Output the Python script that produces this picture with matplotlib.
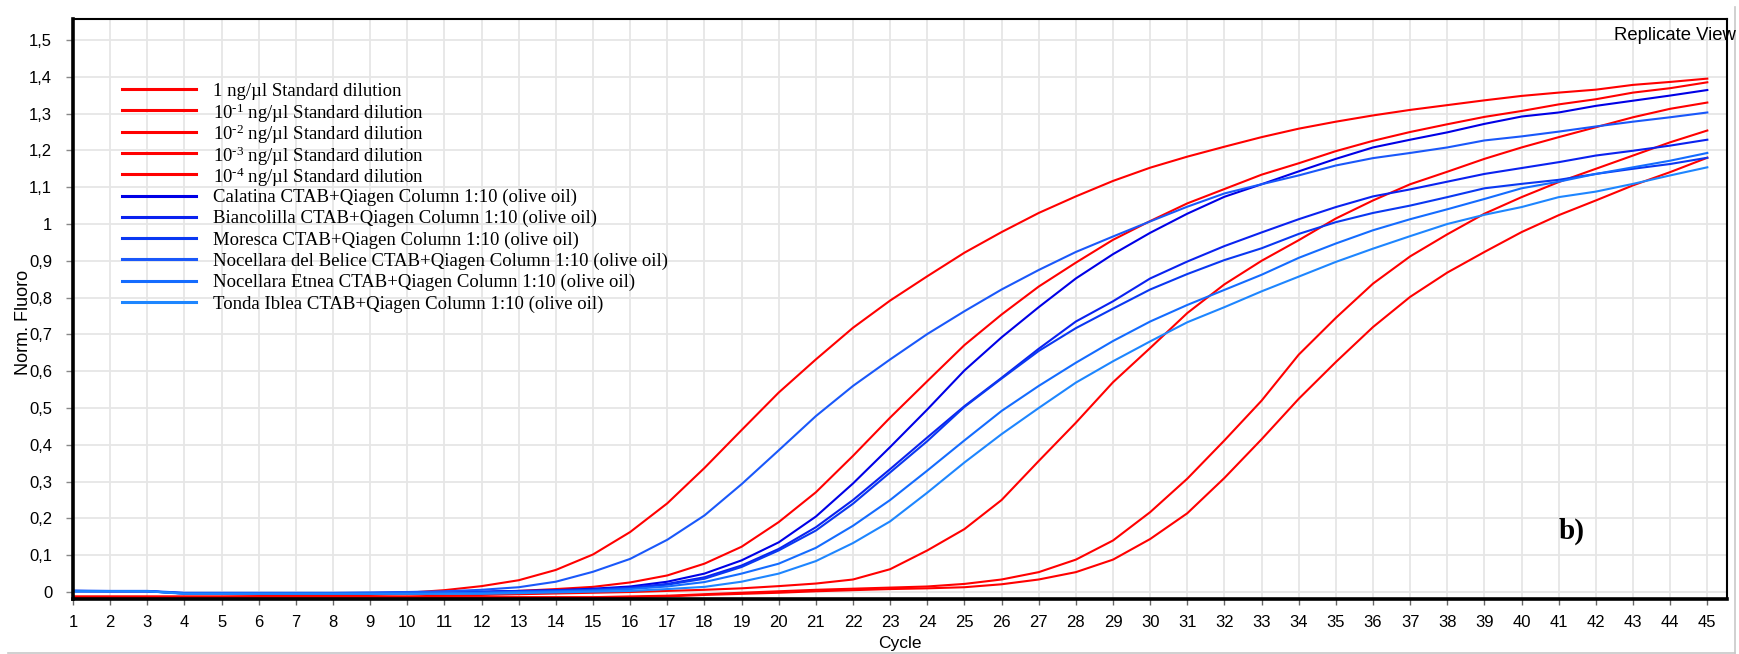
import matplotlib
matplotlib.use("Agg")
import matplotlib.pyplot as plt
from matplotlib.lines import Line2D
import numpy as np

plt.rcParams['mathtext.fontset'] = 'custom'
plt.rcParams['mathtext.rm'] = 'Liberation Serif'
plt.rcParams['mathtext.it'] = 'Liberation Serif:italic'
plt.rcParams['mathtext.bf'] = 'Liberation Serif:bold'

cycles = list(range(1, 46))

r1 = [-0.012, -0.012, -0.012, -0.012, -0.012, -0.011, -0.010, -0.008, -0.005, -0.002,
      0.005, 0.016, 0.032, 0.060, 0.102, 0.163, 0.241, 0.337, 0.440, 0.542,
      0.632, 0.718, 0.792, 0.858, 0.922, 0.978, 1.030, 1.075, 1.117, 1.153,
      1.183, 1.210, 1.236, 1.259, 1.278, 1.295, 1.310, 1.323, 1.336, 1.348,
      1.357, 1.365, 1.378, 1.386, 1.395]
r2 = [-0.013, -0.013, -0.013, -0.013, -0.013, -0.013, -0.012, -0.010, -0.008, -0.006,
      -0.004, -0.001, 0.003, 0.008, 0.014, 0.026, 0.045, 0.077, 0.123, 0.190,
      0.271, 0.370, 0.474, 0.573, 0.671, 0.754, 0.830, 0.895, 0.957, 1.008,
      1.056, 1.095, 1.134, 1.165, 1.198, 1.226, 1.250, 1.271, 1.291, 1.307,
      1.325, 1.339, 1.357, 1.369, 1.385]
r3 = [-0.014, -0.014, -0.014, -0.014, -0.014, -0.014, -0.014, -0.013, -0.013, -0.012,
      -0.010, -0.008, -0.006, -0.004, -0.002, 0.000, 0.003, 0.006, 0.010, 0.016,
      0.023, 0.034, 0.062, 0.113, 0.171, 0.250, 0.356, 0.460, 0.570, 0.663,
      0.758, 0.836, 0.900, 0.956, 1.015, 1.064, 1.108, 1.142, 1.177, 1.208,
      1.236, 1.263, 1.290, 1.313, 1.330]
r4 = [-0.014, -0.014, -0.014, -0.014, -0.014, -0.014, -0.014, -0.014, -0.014, -0.014,
      -0.014, -0.014, -0.014, -0.014, -0.014, -0.012, -0.010, -0.006, -0.002, 0.002,
      0.006, 0.009, 0.012, 0.015, 0.022, 0.034, 0.054, 0.088, 0.140, 0.217,
      0.308, 0.412, 0.520, 0.645, 0.745, 0.838, 0.912, 0.972, 1.028, 1.073,
      1.114, 1.150, 1.186, 1.222, 1.254]
r5 = [-0.015, -0.015, -0.015, -0.015, -0.015, -0.015, -0.015, -0.015, -0.015, -0.015,
      -0.015, -0.015, -0.015, -0.015, -0.015, -0.014, -0.012, -0.008, -0.005, -0.002,
      0.002, 0.005, 0.008, 0.010, 0.013, 0.021, 0.034, 0.054, 0.088, 0.144,
      0.214, 0.310, 0.415, 0.525, 0.625, 0.720, 0.802, 0.868, 0.924, 0.978,
      1.024, 1.064, 1.105, 1.141, 1.180]

calatina = [0.003, 0.002, 0.002, -0.003, -0.003, -0.003, -0.003, -0.003, -0.003, -0.001,
            0.000, 0.001, 0.003, 0.005, 0.009, 0.015, 0.028, 0.050, 0.086, 0.135,
            0.205, 0.295, 0.394, 0.496, 0.602, 0.692, 0.774, 0.852, 0.918, 0.976,
            1.028, 1.074, 1.108, 1.143, 1.177, 1.208, 1.229, 1.249, 1.272, 1.292,
            1.303, 1.321, 1.335, 1.349, 1.364]
biancolilla = [0.002, 0.002, 0.002, -0.004, -0.004, -0.004, -0.004, -0.004, -0.004, -0.002,
               -0.001, 0.000, 0.002, 0.004, 0.007, 0.012, 0.022, 0.040, 0.072, 0.117,
               0.176, 0.250, 0.334, 0.420, 0.505, 0.582, 0.661, 0.735, 0.790, 0.852,
               0.898, 0.940, 0.977, 1.013, 1.046, 1.075, 1.094, 1.115, 1.136, 1.152,
               1.168, 1.186, 1.199, 1.213, 1.229]
moresca = [0.002, 0.002, 0.002, -0.004, -0.004, -0.004, -0.004, -0.004, -0.004, -0.002,
           -0.001, 0.000, 0.002, 0.004, 0.006, 0.011, 0.020, 0.036, 0.068, 0.113,
           0.167, 0.240, 0.325, 0.410, 0.503, 0.580, 0.655, 0.717, 0.770, 0.822,
           0.864, 0.902, 0.934, 0.973, 1.005, 1.030, 1.050, 1.073, 1.097, 1.109,
           1.120, 1.136, 1.150, 1.163, 1.180]
belice = [0.004, 0.003, 0.003, -0.002, -0.002, -0.002, -0.002, -0.002, -0.001, 0.000,
          0.002, 0.006, 0.013, 0.028, 0.055, 0.090, 0.142, 0.208, 0.293, 0.385,
          0.478, 0.560, 0.632, 0.701, 0.763, 0.822, 0.875, 0.924, 0.966, 1.007,
          1.047, 1.083, 1.108, 1.132, 1.159, 1.179, 1.193, 1.208, 1.227, 1.238,
          1.251, 1.265, 1.278, 1.290, 1.303]
etnea = [0.002, 0.002, 0.002, -0.004, -0.004, -0.004, -0.004, -0.004, -0.004, -0.004,
         -0.003, -0.002, 0.000, 0.002, 0.004, 0.008, 0.015, 0.027, 0.050, 0.077,
         0.120, 0.180, 0.250, 0.330, 0.412, 0.492, 0.560, 0.623, 0.682, 0.735,
         0.780, 0.821, 0.862, 0.908, 0.947, 0.983, 1.013, 1.040, 1.068, 1.097,
         1.115, 1.136, 1.154, 1.172, 1.193]
iblea = [0.002, 0.002, 0.002, -0.005, -0.005, -0.005, -0.005, -0.005, -0.005, -0.005,
         -0.005, -0.005, -0.003, -0.001, 0.001, 0.003, 0.008, 0.014, 0.028, 0.050,
         0.084, 0.133, 0.192, 0.270, 0.352, 0.429, 0.500, 0.569, 0.627, 0.681,
         0.733, 0.774, 0.817, 0.857, 0.897, 0.933, 0.967, 1.000, 1.025, 1.046,
         1.073, 1.088, 1.109, 1.132, 1.154]

labels = [
    "1 ng/µl Standard dilution",
    "10$^{\\mathrm{\u2010}1}$ ng/µl Standard dilution",
    "10$^{\\mathrm{\u2010}2}$ ng/µl Standard dilution",
    "10$^{\\mathrm{\u2010}3}$ ng/µl Standard dilution",
    "10$^{\\mathrm{\u2010}4}$ ng/µl Standard dilution",
    "Calatina CTAB+Qiagen Column 1:10 (olive oil)",
    "Biancolilla CTAB+Qiagen Column 1:10 (olive oil)",
    "Moresca CTAB+Qiagen Column 1:10 (olive oil)",
    "Nocellara del Belice CTAB+Qiagen Column 1:10 (olive oil)",
    "Nocellara Etnea CTAB+Qiagen Column 1:10 (olive oil)",
    "Tonda Iblea CTAB+Qiagen Column 1:10 (olive oil)",
]
series = [r1, r2, r3, r4, r5, calatina, biancolilla, moresca, belice, etnea, iblea]
colors = ["#ff0000", "#ff0000", "#ff0000", "#ff0000", "#ff0000",
          "#0000e6", "#0a22f0", "#0a38f2", "#1a58fa", "#146cff", "#1e86ff"]

yticks = [round(0.1 * i, 1) for i in range(16)]
ytick_labels = [("%g" % v).replace(".", ",") for v in yticks]

W, H = 1740, 654
fig = plt.figure(figsize=(W / 100, H / 100), dpi=100)
ax = fig.add_axes([73 / W, 1 - 599 / H, (1727 - 73) / W, (599 - 19) / H])

for ys, lab, col in zip(series, labels, colors):
    ax.plot(cycles, ys, color=col, lw=1.5, label=lab, solid_joinstyle='round')

ax.set_xlim(1, 45.53)
ax.set_ylim(-0.019, 1.557)
ax.set_xticks(cycles)
ax.set_xticklabels([str(c) for c in cycles], fontfamily='Liberation Sans', fontsize=12)
ax.set_yticks(yticks)
ax.set_yticklabels(ytick_labels, fontfamily='Liberation Sans', fontsize=12)
ax.tick_params(axis='x', direction='out', length=4, width=1, color='#666666', pad=7.5)
ax.tick_params(axis='y', direction='out', length=5, width=1, color='#888888', pad=10)
ax.grid(True, color='#e6e6e6', lw=1.3)
ax.set_axisbelow(True)
for side in ['left', 'bottom']:
    ax.spines[side].set_linewidth(2.6)
for side in ['top', 'right']:
    ax.spines[side].set_linewidth(1.5)

ax.set_xlabel("Cycle", fontfamily='Liberation Sans', fontsize=12.5, labelpad=4)
fig.text(24 / W, 1 - 322 / H, "Norm. Fluoro", rotation=90, ha='center', va='center',
         fontfamily='Liberation Sans', fontsize=13)

# legend, drawn entry by entry from the series' own lines
handles, leg_labels = ax.get_legend_handles_labels()
row0, row_step = 89, 21.3
for i, (h, lab) in enumerate(zip(handles, leg_labels)):
    yf = 1 - (row0 + i * row_step) / H
    fig.add_artist(Line2D([122 / W, 196 / W], [yf, yf], transform=fig.transFigure,
                          color=h.get_color(), lw=2.2))
    fig.text(213 / W, yf, lab, ha='left', va='center_baseline',
             fontfamily='Liberation Serif', fontsize=13.5)

fig.text(1736 / W, 1 - 36 / H, "Replicate View", ha='right', va='center',
         fontfamily='Liberation Sans', fontsize=13.3)
ax.text(0.906, 0.117, "b)", transform=ax.transAxes, ha='center', va='center',
        fontfamily='Liberation Serif', fontweight='bold', fontsize=21)

fig.add_artist(Line2D([8 / W, 1735 / W], [1 - 652.5 / H, 1 - 652.5 / H],
                      transform=fig.transFigure, color='#c8c8c8', lw=1.2))
fig.add_artist(Line2D([1735 / W, 1735 / W], [1 - 652.5 / H, 1 - 7 / H],
                      transform=fig.transFigure, color='#c8c8c8', lw=1.2))

fig.savefig("out.png", dpi=100)
